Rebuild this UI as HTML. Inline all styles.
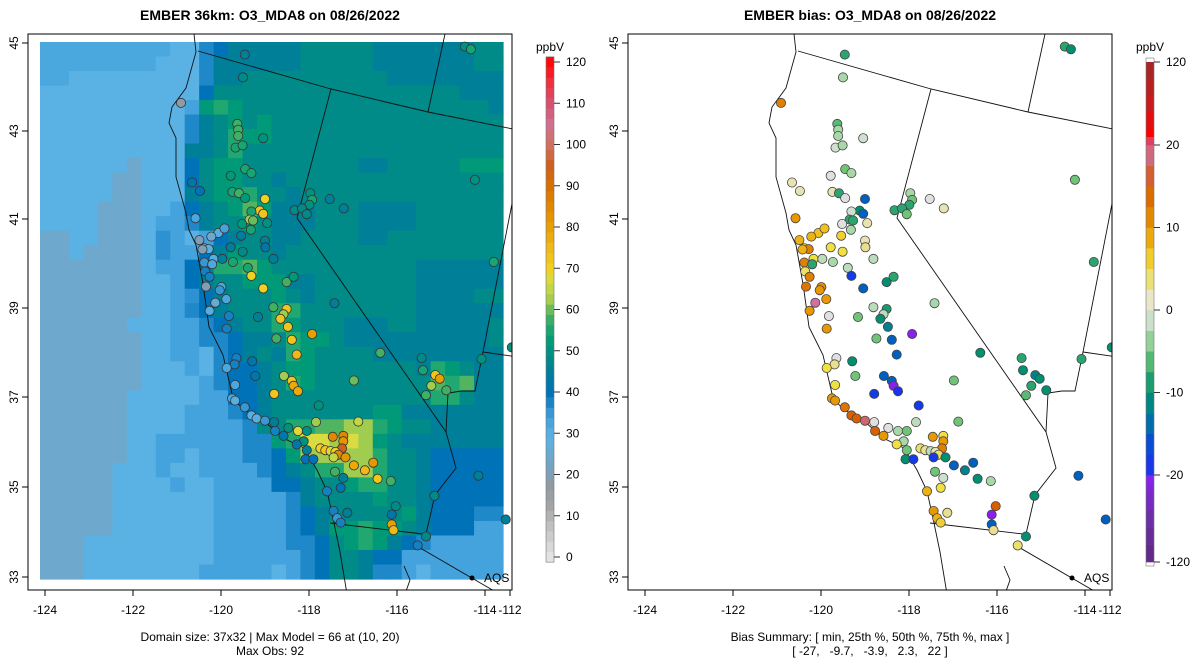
<!DOCTYPE html>
<html><head><meta charset="utf-8"><style>
body{margin:0;background:#fff;}
svg{display:block;font-family:"Liberation Sans",sans-serif;}
</style></head><body>
<svg id="root" width="1200" height="672" xmlns="http://www.w3.org/2000/svg">
<defs>
<clipPath id="clipL"><rect x="28" y="34" width="484" height="556"/></clipPath>
<clipPath id="clipR"><rect x="628" y="34" width="484" height="556"/></clipPath>
</defs>
<text x="270" y="20" text-anchor="middle" font-size="14" font-weight="bold">EMBER 36km: O3_MDA8 on 08/26/2022</text>
<text x="870" y="20" text-anchor="middle" font-size="14" font-weight="bold">EMBER bias: O3_MDA8 on 08/26/2022</text>
<g id="heat" clip-path="url(#clipL)"></g>
<g id="geoL" clip-path="url(#clipL)"></g>
<g id="geoR" clip-path="url(#clipR)"></g>
<g id="dotsL" clip-path="url(#clipL)"></g>
<g id="dotsR" clip-path="url(#clipR)"></g>
<g id="axes"></g>
<g id="cbL"></g>
<g id="cbR"></g>
<text x="270" y="641" text-anchor="middle" font-size="12">Domain size: 37x32 | Max Model = 66 at (10, 20)</text>
<text x="270" y="655" text-anchor="middle" font-size="12">Max Obs: 92</text>
<text x="870" y="641" text-anchor="middle" font-size="12">Bias Summary: [ min, 25th %, 50th %, 75th %, max ]</text>
<text x="870" y="655" text-anchor="middle" font-size="12" xml:space="preserve">[ -27,   -9.7,   -3.9,   2.3,   22 ]</text>
</svg>
<script>
const gridRows = [
"bbbbbbbbbBBdDEEEEEFFFFFEEEEEEEFF",
"bbbbbbbbBBBdEEEEEEFFFFFEEEEEEEFF",
"bbBBBBBBBBBdEEFFFFFFFFFFEEEEEEEE",
"BBBBBBBBBBBDFFFFFFFFFFFFFFFFFEEE",
"BBBBBBBBBBcGHGFFFFFFFFFFFFFFFFFE",
"BBBBBBBBBBdEFGFGFFFFFFFFFFFFFFFF",
"BBBBBBBBBBdEFHGGFFFFFFFFFFFFFFFF",
"BBBBBBBBBBEEFHFFFFFFFFFFFFFFFFFF",
"BBBBBBABBBDFGGFFFFFFFFEEFFFFFGGG",
"BBBBBAABBBDFGGFFEFFFFFFFFFFFFFFF",
"BBBBBAABBBEFGGHFFEFFFFFFFFFFFFFF",
"BBBBAAABBcDEFGIGEEEFFFEEEEFFFFFF",
"BBBBAAABccdEFFGFEEEFFFEEEEFFFFFF",
"AABBAAABCcBcDEFFEEFFFFEEFFFFFFFF",
"AABAAAABCccDEGFFEFFFFFFFFFFFFFFF",
"AAAAAAABccDEHHIGFFFFFFFFFFEEEEEE",
"AAAAAAABBcDEFFGGGEEFFFFFFFEEEEEE",
"AAAAAAABBcCDEFFFGFEFFFFFFFEEEEFF",
"AAAAAAABBcdDEFFFHHFFFFFFFFEEEEEE",
"AAAAAABBBccdDEFFHGFFFEEEFFEEEEEF",
"AAAAAAABBccddDEEFHGGFEEEEEEEEEEF",
"AAAAAAABBccBdDEFEHGFFFFEEEEEEEEE",
"AAAAAAABBBcBdDDEFGGFFFFFFFEHGFEE",
"AAAAAAABBBBcdDDEFHGFFFFFFFFIHIEE",
"AAAAAABBBBBccDDEFFFFFFFFFFFHHFEE",
"AAAAAABBBBcccdDEFFFFFFFGGEEEEEEE",
"AAAAAABBBBccccdFFHHIIJJHGFFEEEEE",
"AAAAAABBccccccddGHKKJKJGFEEEEEEE",
"AAAAAABBccBcccddDGJJJJJHFFEDDDDD",
"AAAAABBBcBBccccdDEFHHJJHFFEDDDDD",
"AAAAABBBBcBBccccDDEFFGHHFFEDDDDD",
"AAAAABBBBBBBcccccdEFFFFGFFEDDDDD",
"AAAAABBBBBBBcccccdDEFFFFFGEDDDdd",
"AAAAABBBBBBBcccccdDEGGHGGFEDDDcc",
"AAABBBBBBBBBcccccddDFGHGEDdccccc",
"AAABBBBBBBBBccccccdDFFEDDccccccc",
"AAABBBBBBBBcccccBcdDFFEddcBccccc"];
const levelCodes = {A:24,B:29,b:32,c:33.5,C:36,d:37,D:40,E:45,F:48,G:52,H:56,I:59,J:62,K:67};
const stLon = [-119.46,-119.5,-120.91,-119.63,-119.61,-119.61,-119.67,-119.51,-119.04,-119.45,-119.31,-119.78,-120.66,-120.48,-119.74,-119.59,-119.45,-119.0,-119.12,-119.04,-119.31,-119.35,-119.27,-119.52,-119.32,-118.95,-120.58,-120.06,-119.92,-120.22,-120.49,-120.38,-120.28,-120.42,-120.17,-119.97,-119.78,-119.54,-119.51,-119.0,-118.99,-119.73,-119.39,-119.31,-118.81,-120.38,-120.2,-120.36,-120.26,-120.34,-119.99,-120.03,-119.88,-120.13,-120.26,-119.04,-118.51,-118.35,-118.81,-118.51,-118.58,-118.65,-118.48,-118.74,-118.39,-118.28,-117.93,-119.82,-119.87,-119.16,-117.42,-119.65,-119.69,-119.87,-119.29,-119.22,-118.57,-118.39,-118.35,-118.25,-118.79,-116.98,-116.38,-119.68,-119.75,-119.68,-119.46,-119.31,-119.19,-119.0,-118.79,-118.77,-118.47,-118.25,-118.05,-117.78,-117.84,-116.88,-117.46,-117.22,-117.22,-117.25,-117.74,-117.63,-117.51,-117.4,-117.33,-117.17,-117.44,-118.12,-118.28,-118.58,-118.08,-117.9,-118.05,-116.98,-116.73,-116.54,-116.44,-116.14,-117.41,-117.22,-117.28,-117.59,-117.44,-117.36,-117.28,-117.13,-116.12,-116.03,-116.12,-116.08,-115.53,-115.34,-115.15,-114.15,-113.53,-113.25,-117.97,-117.93,-117.99,-118.33,-118.16,-118.05,-117.53,-117.21,-114.46,-114.32,-114.23,-113.8,-115.44,-115.41,-115.13,-115.03,-115.22,-115.34,-114.88,-114.08,-113.39];
const stLat = [44.74,44.23,43.66,43.19,43.06,42.92,42.66,42.71,42.87,42.18,42.09,42.03,41.88,41.69,41.67,41.64,41.53,41.51,41.25,41.18,41.23,41.05,41.03,40.95,40.82,40.97,41.08,40.75,40.85,40.67,40.59,40.41,40.39,40.38,40.17,40.17,40.43,40.69,40.33,40.58,40.43,40.10,39.97,39.79,40.17,40.09,40.05,39.89,39.77,39.55,39.54,39.47,39.27,39.19,39.01,39.51,39.65,39.77,39.09,39.05,38.93,38.83,38.65,38.39,38.36,38.03,38.49,38.89,38.61,38.87,39.18,37.95,37.81,37.73,37.88,37.55,37.55,37.44,37.33,37.21,37.15,37.45,38.07,37.35,37.05,37.0,36.85,36.67,36.6,36.55,36.52,36.32,36.39,36.32,36.32,36.89,36.52,36.53,36.19,36.21,36.09,35.93,35.93,35.89,35.87,35.85,35.79,35.73,35.73,36.09,36.02,36.21,35.69,35.69,35.89,35.55,35.44,35.61,35.25,35.2,35.41,35.27,35.05,34.97,34.53,34.37,34.27,34.49,34.45,34.64,34.23,34.1,33.76,33.96,34.87,35.32,34.34,34.57,41.64,41.49,41.38,41.26,41.3,41.17,41.51,41.3,44.92,44.86,41.94,40.1,37.95,37.68,37.57,37.49,37.33,37.12,37.23,37.93,38.19];
const obsVals = [45,48,18,58,58,58,55,55,50,55,55,52,42,40,55,58,52,70,72,72,55,62,60,52,55,50,32,30,33,24,20,22,28,20,30,45,45,45,48,45,42,55,55,70,45,35,32,38,38,20,32,35,32,25,30,70,58,52,58,72,62,72,72,58,72,75,80,38,38,45,45,38,38,32,42,42,62,72,78,78,72,60,58,32,32,30,35,30,30,35,45,38,50,68,50,50,62,65,85,85,82,95,70,72,68,70,85,82,65,50,42,42,40,40,45,78,75,82,72,58,58,45,40,38,38,35,38,45,42,48,80,75,38,48,48,45,45,60,50,55,50,48,48,48,45,45,50,55,50,55,48,55,72,80,62,58,58,50,50];
const biasVals = [-8,-3,12,-6,-3,-3,-1,-3,-1,-5,-3,0,2,2,2,-8,0,-15,-10,-15,-1,-8,-8,0,-3,2,10,7,7,8,8,6,12,8,5,-2,5,6,5,2,3,-3,-2,-18,-2,12,-8,4,12,13,11,10,10,20,10,-15,-10,-8,-2,-9,-2,-10,-12,-5,-15,-15,-25,0,10,-5,-3,0,3,5,-10,-5,-15,-15,-25,-20,-18,-5,-10,5,10,10,13,15,15,18,0,15,0,-3,-5,-18,-2,-5,10,5,10,12,4,3,-2,2,4,-10,-18,-3,5,10,-10,-18,-5,-15,-12,-15,-10,-3,-5,-1,5,8,10,8,6,3,-25,15,-15,3,4,-10,-10,-15,-15,-10,-3,-5,-8,-8,-8,-5,0,2,-8,-10,-5,-8,-8,-10,-12,-10,-8,-6,-10,-8,-10];
const xTicks = [-124,-122,-120,-118,-116,-114,-112];
const yTicks = [45,43,41,39,37,35,33];
const cbTicks = [0,10,20,30,40,50,60,70,80,90,100,110,120];
const biasTicks = [120,20,10,0,-10,-20,-120];

const NS="http://www.w3.org/2000/svg";
function mk(tag,attrs,parent){const e=document.createElementNS(NS,tag);for(const k in attrs)e.setAttribute(k,attrs[k]);parent.appendChild(e);return e;}
function hex(h){return [parseInt(h.slice(1,3),16),parseInt(h.slice(3,5),16),parseInt(h.slice(5,7),16)];}
function interp(stops,v){
  if(v<=stops[0][0])return stops[0][1];
  for(let i=1;i<stops.length;i++){if(v<=stops[i][0]){const a=stops[i-1],b=stops[i];const t=(v-a[0])/(b[0]-a[0]);const c1=hex(a[1]),c2=hex(b[1]);return 'rgb('+c1.map((c,j)=>Math.round(c+(c2[j]-c)*t)).join(',')+')';}}
  return stops[stops.length-1][1];
}
const obsStops=[[-1.25,"#e8e8e8"],[2.5,"#d8d8d8"],[7.5,"#c0c0c0"],[12.5,"#a4a4a4"],[17.5,"#909aa2"],[21,"#7aa0bc"],[24,"#6ea8cc"],[29,"#5ab2e4"],[32,"#4aa8de"],[33.5,"#44a2dc"],[36,"#2e92d2"],[37,"#1e88c8"],[40,"#0072b8"],[45,"#007f98"],[48,"#008a88"],[52,"#009a78"],[56,"#20a870"],[59,"#50b460"],[62,"#a0cc50"],[67,"#d8dc40"],[70,"#f0d020"],[75,"#f0b818"],[80,"#e8a000"],[85,"#e08800"],[90,"#d87000"],[95,"#d06020"],[100,"#d07060"],[105,"#d07090"],[110,"#d85070"],[115,"#f03040"],[121,"#ff0000"]];
const biasStops=[[-120,"#602880"],[-60,"#7030b0"],[-22,"#8a20f0"],[-20,"#2030f0"],[-17,"#1040e0"],[-15,"#0060c0"],[-12,"#008090"],[-10,"#009070"],[-7,"#40b070"],[-5,"#70c478"],[-3,"#a8d8a8"],[-1,"#d0e0d0"],[0,"#e0e0e0"],[1,"#e8e8d0"],[3,"#e8e090"],[5,"#f0e040"],[7,"#f0c020"],[10,"#e89800"],[12,"#e08000"],[15,"#d86000"],[17,"#d06050"],[20,"#d070a0"],[25,"#e04060"],[35,"#ff0000"],[60,"#d01818"],[120,"#a02828"]];

const px = lon => 45 + (lon + 124) * 44;
const py = lat => 43 + (45 - lat) * 44.7;

const heat=document.getElementById('heat');
const gx0=40,gx1=503,gy0=42,gy1=579;
const nCols=gridRows[0].length,nRows=gridRows.length;
const cw=(gx1-gx0)/nCols,ch=(gy1-gy0)/nRows;
gridRows.forEach((row,r)=>{for(let c=0;c<row.length;c++){
  const v=levelCodes[row[c]];
  const e=mk('rect',{x:(gx0+c*cw).toFixed(2),y:(gy0+r*ch).toFixed(2),width:(cw+0.6).toFixed(2),height:(ch+0.6).toFixed(2),fill:interp(obsStops,v)},heat);
  
  
}});

const geoLines=[
"194,34 196,52 186,88 172,107 169,123 176,138 176,177 186,213 189,230 196,245 203,284 206,305 209,327 223,355 233,398 243,409 263,420 283,438 304,448 317,470 327,491 334,523 340,552 347,594",
"198,51 331,89 428,112 518,130",
"445,34 428,112",
"331,89 297,218 446,432 456,468 435,495 426,534",
"330,523 423,534",
"415,545 520,606",
"518,173 483,352 475,391 462,391 448,393 446,432",
"483,352 518,357",
"404,566 410,580 405,594"];
['geoL','geoR'].forEach((id,k)=>{
  const g=document.getElementById(id);
  geoLines.forEach(p=>{
    const pts=p.split(' ').map(s=>{const [a,b]=s.split(',').map(Number);return (a+600*k)+','+b;}).join(' ');
    const e=mk('polyline',{points:pts,fill:'none',stroke:'#111','stroke-width':0.9},g);
    
    
  });
  const d=mk('circle',{cx:472+600*k,cy:578,r:2.5,fill:'#000'},g);
  
  
  const t=mk('text',{x:484+600*k,y:582,'font-size':12},document.getElementById('root'));
  t.textContent='AQS';
  
  
});

const dL=document.getElementById('dotsL'),dR=document.getElementById('dotsR');
for(let i=0;i<stLon.length;i++){
  const a=mk('circle',{cx:px(stLon[i]).toFixed(1),cy:py(stLat[i]).toFixed(1),r:4.6,fill:interp(obsStops,obsVals[i]),stroke:'#333','stroke-width':0.8},dL);
  
  
  const b=mk('circle',{cx:(px(stLon[i])+600).toFixed(1),cy:py(stLat[i]).toFixed(1),r:4.6,fill:interp(biasStops,biasVals[i]),stroke:'#444','stroke-width':0.8},dR);
  
  
}

const ax=document.getElementById('axes');
const xPix=[45,133,221,309,397,485,510];
const yPix=[43,131,219,308,397,487,577];
[0,600].forEach(off=>{
  const f=mk('rect',{x:28+off,y:34,width:484,height:556,fill:'none',stroke:'#000','stroke-width':1},ax);
  
  
  xTicks.forEach((v,i)=>{
    const x=xPix[i]+off;
    const l=mk('line',{x1:x,x2:x,y1:590,y2:596,stroke:'#000'},ax);
    
    
    const t=mk('text',{x:x,y:614,'text-anchor':'middle','font-size':12},ax);
    t.textContent=v;
    
    
  });
  yTicks.forEach((v,i)=>{
    const y=yPix[i];
    const l=mk('line',{x1:28+off,x2:22+off,y1:y,y2:y,stroke:'#000'},ax);
    
    
    const t=mk('text',{x:0,y:0,'text-anchor':'middle','font-size':12,transform:`translate(${18+off},${y}) rotate(-90)`},ax);
    t.textContent=v;
    
    
  });
});

const cbL=document.getElementById('cbL');
const cy=v=>557-v*4.125;
for(let v=0;v<=120;v+=2.5){
  const e=mk('rect',{x:546,y:cy(v+1.25),width:8,height:4.125*2.5+0.3,fill:interp(obsStops,v)},cbL);
  
  
}
mk('rect',{x:546,y:cy(121.25),width:8,height:cy(-1.25)-cy(121.25),fill:'none',stroke:'#777','stroke-width':0.6},cbL);
cbTicks.forEach(v=>{
  mk('line',{x1:554,x2:560,y1:cy(v),y2:cy(v),stroke:'#333'},cbL);
  const t=mk('text',{x:566,y:cy(v)+4,'font-size':12},cbL);
  t.textContent=v;
  
  
});
const uL=mk('text',{x:550,y:51,'text-anchor':'middle','font-size':12},cbL);uL.textContent='ppbV';



const cbR=document.getElementById('cbR');
function by(v){if(v>20)return 145-(v-20)*0.83;if(v<-20)return 475+(-20-v)*0.87;return 310-v*8.25;}
const binEdges=[-120,-100,-80,-60,-40,-30,-20,-17.5,-15,-12.5,-10,-7.5,-5,-2.5,0,2.5,5,7.5,10,12.5,15,17.5,20,30,40,60,80,100,120];
for(let i=0;i<binEdges.length-1;i++){
  const a=binEdges[i],b=binEdges[i+1];
  const e=mk('rect',{x:1146,y:by(b),width:8,height:by(a)-by(b)+0.3,fill:interp(biasStops,(a+b)/2)},cbR);
  
  
}
mk('rect',{x:1146,y:by(120)-4,width:8,height:by(-120)-by(120)+8,fill:'none',stroke:'#777','stroke-width':0.6},cbR);
biasTicks.forEach(v=>{
  mk('line',{x1:1154,x2:1160,y1:by(v),y2:by(v),stroke:'#333'},cbR);
  const t=mk('text',{x:1166,y:by(v)+4,'font-size':12},cbR);
  t.textContent=v;
  
  
});
const uR=mk('text',{x:1150,y:51,'text-anchor':'middle','font-size':12},cbR);uR.textContent='ppbV';


</script>
</body></html>
